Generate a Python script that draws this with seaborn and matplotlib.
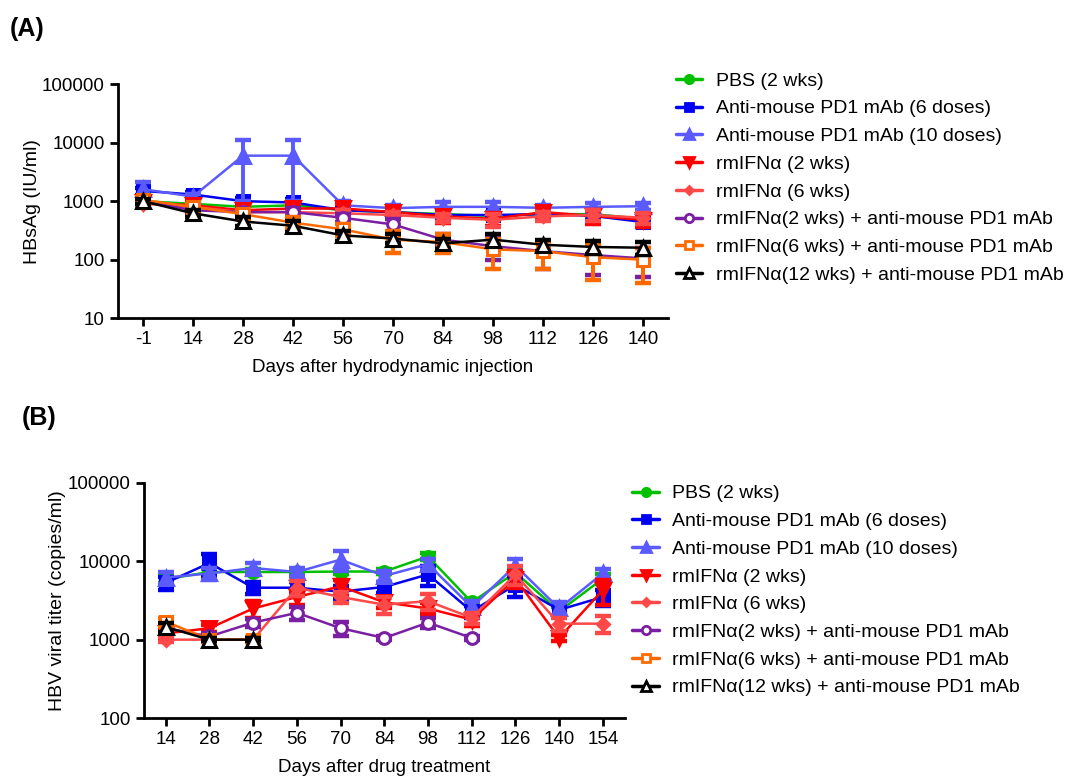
import pandas as pd
import seaborn as sns
import matplotlib.pyplot as plt

# ---- panel A: HBsAg ----
days_a = ["-1", "14", "28", "42", "56", "70", "84", "98", "112", "126", "140"]
pbs_a = [1000, 900, 800, 850, 700, 650, 600, 560, 600, 600, 500]
pbs_a_err = [100, 80, 80, 80, 60, 60, 60, 60, 60, 60, 60]
pd1_6_a = [1500, 1300, 1000, 950, 700, 650, 580, 580, 600, 560, 440]
pd1_6_a_err = [200, 150, 150, 150, 80, 80, 60, 60, 60, 80, 80]
pd1_10_a = [1600, 1200, 6000, 6000, 850, 760, 800, 800, 770, 800, 820]
pd1_10_a_err = [500, 150, 5000, 5000, 150, 100, 150, 150, 100, 120, 120]
ifn2_a = [950, 850, 700, 750, 750, 650, 550, 500, 650, 560, 480]
ifn2_a_err = [150, 100, 100, 150, 150, 120, 120, 130, 150, 150, 120]
ifn6_a = [900, 800, 650, 650, 620, 580, 520, 480, 550, 580, 520]
ifn6_a_err = [100, 100, 80, 80, 80, 80, 80, 120, 100, 120, 120]
ifn2pd1_a = [1000, 700, 650, 650, 520, 400, 220, 170, 140, 120, 105]
ifn2pd1_a_err = [100, 80, 80, 100, 80, 100, 50, 70, 70, 65, 55]
ifn6pd1_a = [1050, 800, 600, 430, 330, 220, 200, 150, 140, 110, 100]
ifn6pd1_a_err = [150, 100, 100, 100, 80, 90, 70, 80, 70, 65, 60]
ifn12pd1_a = [1000, 620, 450, 380, 260, 230, 190, 220, 180, 165, 160]
ifn12pd1_a_err = [100, 80, 80, 80, 50, 40, 40, 50, 40, 40, 40]

# ---- panel B: HBV viral titer ----
days_b = ["14", "28", "42", "56", "70", "84", "98", "112", "126", "140", "154"]
pbs_b = [5900, 7300, 7300, 7300, 7400, 7400, 11500, 3000, 7200, 2300, 6000]
pbs_b_err = [600, 600, 600, 600, 600, 600, 1200, 300, 1000, 300, 800]
pd1_6_b = [5300, 9500, 4600, 4600, 4100, 4700, 6800, 2300, 5000, 2400, 3500]
pd1_6_b_err = [1000, 3000, 800, 800, 800, 800, 2000, 400, 1500, 400, 800]
pd1_10_b = [6200, 7000, 8200, 7300, 10500, 6500, 9200, 2600, 8800, 2500, 7000]
pd1_10_b_err = [1000, 1200, 1200, 900, 3000, 1000, 1500, 500, 2000, 500, 1000]
ifn2_b = [1200, 1400, 2500, 3500, 4800, 3000, 2500, 1800, 6000, 1050, 4300]
ifn2_b_err = [150, 150, 600, 700, 1000, 500, 400, 300, 1500, 100, 1500]
ifn6_b = [1000, 1000, 1000, 4600, 3500, 2800, 3100, 1900, 6800, 1600, 1600]
ifn6_b_err = [80, 80, 80, 1000, 600, 700, 700, 300, 1800, 300, 400]
ifn2pd1_b = [1400, 1100, 1650, 2200, 1400, 1050, 1650, 1050]
ifn2pd1_b_err = [150, 100, 200, 400, 300, 50, 250, 50]
ifn6pd1_b = [1700, 1000, 1000]
ifn6pd1_b_err = [200, 50, 80]
ifn12pd1_b = [1450, 1000, 1000]
ifn12pd1_b_err = [200, 50, 50]

labels = ["PBS (2 wks)", "Anti-mouse PD1 mAb (6 doses)", "Anti-mouse PD1 mAb (10 doses)",
          "rmIFNα (2 wks)", "rmIFNα (6 wks)", "rmIFNα(2 wks) + anti-mouse PD1 mAb",
          "rmIFNα(6 wks) + anti-mouse PD1 mAb", "rmIFNα(12 wks) + anti-mouse PD1 mAb"]
colors = ["#00c000", "#0000f0", "#5a5aff", "#ff0000", "#ff4848", "#7b1fa2", "#ff6a00", "#000000"]
markers = ["o", "s", "^", "v", "D", "o", "s", "^"]
msizes = [8.5, 8.5, 9.5, 9.5, 6.5, 8.5, 8.5, 9.5]
open_marker = [False, False, False, False, False, True, True, True]

series_a = [(pbs_a, pbs_a_err), (pd1_6_a, pd1_6_a_err), (pd1_10_a, pd1_10_a_err),
            (ifn2_a, ifn2_a_err), (ifn6_a, ifn6_a_err), (ifn2pd1_a, ifn2pd1_a_err),
            (ifn6pd1_a, ifn6pd1_a_err), (ifn12pd1_a, ifn12pd1_a_err)]
series_b = [(pbs_b, pbs_b_err), (pd1_6_b, pd1_6_b_err), (pd1_10_b, pd1_10_b_err),
            (ifn2_b, ifn2_b_err), (ifn6_b, ifn6_b_err), (ifn2pd1_b, ifn2pd1_b_err),
            (ifn6pd1_b, ifn6pd1_b_err), (ifn12pd1_b, ifn12pd1_b_err)]

sns.set_theme(style="ticks")
plt.rcParams["font.family"] = ["Liberation Sans", "DejaVu Sans"]
plt.rcParams["font.size"] = 13.5
plt.rcParams["text.color"] = "black"
plt.rcParams["axes.labelcolor"] = "black"

fig = plt.figure(figsize=(10.66, 7.76), dpi=100)
ax_a = fig.add_axes([0.1107, 0.590, 0.516, 0.3015])
ax_b = fig.add_axes([0.135, 0.0747, 0.451, 0.303])


def draw_panel(ax, days, series, labs, ylim, ylabel, xlabel, legend_anchor):
    handles = []
    for i, (vals, errs) in enumerate(series):
        df = pd.DataFrame({"pos": list(range(len(vals))), "value": vals})
        fc = "white" if open_marker[i] else colors[i]
        ax.errorbar(df["pos"], df["value"], yerr=errs, fmt="none", ecolor=colors[i],
                    elinewidth=2.8, capsize=5.5, capthick=3.2, zorder=2 + i)
        sns.lineplot(data=df, x="pos", y="value", ax=ax, color=colors[i], linewidth=1.8,
                     marker=markers[i], markersize=msizes[i], markerfacecolor=fc,
                     markeredgecolor=colors[i], markeredgewidth=2.2, zorder=3 + i,
                     label=labs[i], legend=False)
        h, = ax.plot([], [], color=colors[i], linewidth=2.5, marker=markers[i],
                     markersize=msizes[i] - 2.5, markerfacecolor=fc, markeredgecolor=colors[i],
                     markeredgewidth=2)
        handles.append(h)
    ax.set_yscale("log")
    ax.set_ylim(*ylim)
    ax.set_xlim(-0.5, 10.5)
    ax.set_xticks(range(len(days)))
    ax.set_xticklabels(days)
    ax.minorticks_off()
    ax.yaxis.set_major_formatter(plt.FuncFormatter(lambda v, p: f"{int(round(v))}"))
    ax.set_xlabel(xlabel, fontsize=13.5, labelpad=8)
    ax.set_ylabel(ylabel, fontsize=14, labelpad=1)
    for s in ["top", "right"]:
        ax.spines[s].set_visible(False)
    for s in ["left", "bottom"]:
        ax.spines[s].set_linewidth(2)
        ax.spines[s].set_color("black")
    ax.tick_params(axis="both", width=2, length=6, color="black", labelsize=13.5,
                   labelcolor="black")
    leg = ax.legend(handles, labs, loc="upper left", bbox_to_anchor=legend_anchor,
                    frameon=False, fontsize=14, handlelength=1.35, handletextpad=0.7,
                    labelspacing=0.52, borderaxespad=0)
    for t in leg.get_texts():
        t.set_color("black")


draw_panel(ax_a, days_a, series_a, labels, (10, 100000), "HBsAg (IU/ml)",
           "Days after hydrodynamic injection", (1.0, 1.085))
draw_panel(ax_b, days_b, series_b, labels, (100, 100000), "HBV viral titer (copies/ml)",
           "Days after drug treatment", (1.0, 1.025))

fig.text(0.009, 0.962, "(A)", fontsize=18, fontweight="bold", va="center")
fig.text(0.020, 0.461, "(B)", fontsize=18, fontweight="bold", va="center")

fig.savefig("out.png", dpi=100)
